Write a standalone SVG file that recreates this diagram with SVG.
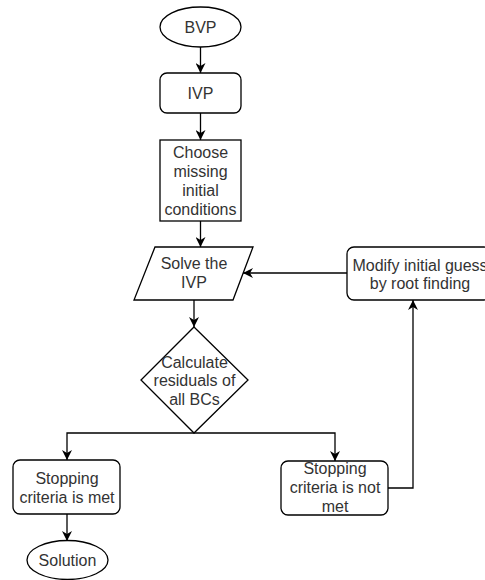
<svg xmlns="http://www.w3.org/2000/svg" width="485" height="580" viewBox="0 0 485 580">
<style>
.s{fill:#fff;stroke:#000;stroke-width:1.3}
.t{font-family:"Liberation Sans",Arial,sans-serif;font-size:16px;fill:#333;text-anchor:middle}
.c{fill:none;stroke:#000;stroke-width:1.3}
</style>
<defs>
<marker id="a" viewBox="0 0 10 10" refX="10" refY="5" markerWidth="10" markerHeight="10" markerUnits="userSpaceOnUse" orient="auto">
<path d="M0,0 L10,5 L0,10 L3,5 Z" fill="#000"/>
</marker>
</defs>
<rect width="485" height="580" fill="#fff"/>
<g id="connectors">
<path class="c" d="M200.5,47 V73" marker-end="url(#a)"/>
<path class="c" d="M200.5,113 V140" marker-end="url(#a)"/>
<path class="c" d="M200.5,221 V247" marker-end="url(#a)"/>
<path class="c" d="M194,300 V327" marker-end="url(#a)"/>
<path class="c" d="M194,433 H67 V460" marker-end="url(#a)"/>
<path class="c" d="M194,433 H335 V461" marker-end="url(#a)"/>
<path class="c" d="M388,488 H413 V300" marker-end="url(#a)"/>
<path class="c" d="M347,273 H243" marker-end="url(#a)"/>
<path class="c" d="M67,514 V541" marker-end="url(#a)"/>
</g>
<g id="bvp">
<ellipse class="s" cx="200.5" cy="27" rx="40.5" ry="20"/>
<text class="t" x="200.5" y="32.5">BVP</text>
</g>
<g id="ivp">
<rect class="s" x="160" y="73" width="81" height="40" rx="7"/>
<text class="t" x="200.5" y="98.5">IVP</text>
</g>
<g id="choose">
<rect class="s" x="160" y="140" width="81" height="81"/>
<text class="t" x="200.5" y="157.5">Choose</text>
<text class="t" x="200.5" y="176.5">missing</text>
<text class="t" x="200.5" y="195.5">initial</text>
<text class="t" x="200.5" y="214.5">conditions</text>
</g>
<g id="solve">
<polygon class="s" points="155,247 253,247 233,300 134,300"/>
<text class="t" x="194" y="269">Solve the</text>
<text class="t" x="194" y="288">IVP</text>
</g>
<g id="calc">
<polygon class="s" points="194,327 248,380 194,433 141,380"/>
<text class="t" x="194.5" y="367.5">Calculate</text>
<text class="t" x="194.5" y="386">residuals of</text>
<text class="t" x="194.5" y="405">all BCs</text>
</g>
<g id="modify">
<rect class="s" x="347" y="247" width="144" height="53" rx="7"/>
<text class="t" x="420" y="270.5">Modify initial guess</text>
<text class="t" x="420" y="289">by root finding</text>
</g>
<g id="met">
<rect class="s" x="13" y="460" width="107" height="54" rx="7"/>
<text class="t" x="67" y="483.5">Stopping</text>
<text class="t" x="67" y="502.5">criteria is met</text>
</g>
<g id="notmet">
<rect class="s" x="281" y="461" width="107" height="54" rx="7"/>
<text class="t" x="335" y="473.5">Stopping</text>
<text class="t" x="335" y="492.5">criteria is not</text>
<text class="t" x="335" y="511.5">met</text>
</g>
<g id="solution">
<ellipse class="s" cx="67.5" cy="560" rx="40.5" ry="19.5"/>
<text class="t" x="67.5" y="565.5">Solution</text>
</g>
</svg>
